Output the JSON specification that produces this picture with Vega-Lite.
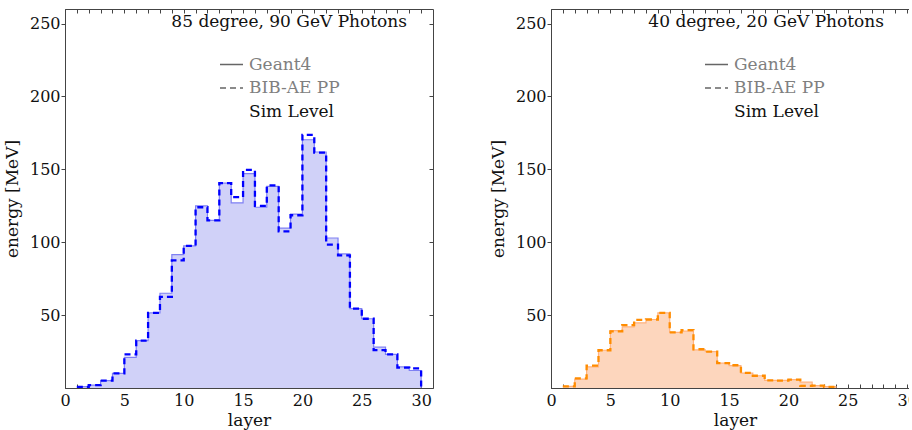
{
  "$schema": "https://vega.github.io/schema/vega-lite/v6.json",
  "background": "white",
  "padding": {"left": 2, "top": 8, "right": -11, "bottom": 2},
  "spacing": 54,
  "config": {
    "font": "DejaVu Serif",
    "view": {"stroke": "#444", "strokeWidth": 1},
    "axis": {
      "labelFont": "DejaVu Serif", "labelFontSize": 16, "labelColor": "#111",
      "titleFont": "DejaVu Serif", "titleFontSize": 17, "titleFontWeight": "normal", "titleColor": "#111",
      "domainColor": "#444", "tickColor": "#444", "grid": false
    },
    "title": {"font": "DejaVu Serif", "fontSize": 17, "fontWeight": "normal", "color": "#111"},
    "legend": {
      "labelFont": "DejaVu Serif", "labelFontSize": 17, "labelColor": "#808080",
      "symbolType": "stroke", "symbolSize": 529, "symbolStrokeWidth": 1.5, "symbolStrokeColor": "#666",
      "labelOffset": 5, "rowPadding": 2.5, "padding": 0
    }
  },
  "datasets": {
    "deg85": [
      {"layer": 1, "sim": "Geant4", "e": 1}, {"layer": 2, "sim": "Geant4", "e": 2}, {"layer": 3, "sim": "Geant4", "e": 5},
      {"layer": 4, "sim": "Geant4", "e": 10}, {"layer": 5, "sim": "Geant4", "e": 21}, {"layer": 6, "sim": "Geant4", "e": 32.5},
      {"layer": 7, "sim": "Geant4", "e": 51.5}, {"layer": 8, "sim": "Geant4", "e": 65}, {"layer": 9, "sim": "Geant4", "e": 91.5},
      {"layer": 10, "sim": "Geant4", "e": 97.5}, {"layer": 11, "sim": "Geant4", "e": 125}, {"layer": 12, "sim": "Geant4", "e": 115},
      {"layer": 13, "sim": "Geant4", "e": 140.5}, {"layer": 14, "sim": "Geant4", "e": 127}, {"layer": 15, "sim": "Geant4", "e": 147},
      {"layer": 16, "sim": "Geant4", "e": 124}, {"layer": 17, "sim": "Geant4", "e": 138.3}, {"layer": 18, "sim": "Geant4", "e": 109.7},
      {"layer": 19, "sim": "Geant4", "e": 119.3}, {"layer": 20, "sim": "Geant4", "e": 170.3}, {"layer": 21, "sim": "Geant4", "e": 161.9},
      {"layer": 22, "sim": "Geant4", "e": 102.9}, {"layer": 23, "sim": "Geant4", "e": 92}, {"layer": 24, "sim": "Geant4", "e": 54.5},
      {"layer": 25, "sim": "Geant4", "e": 47.5}, {"layer": 26, "sim": "Geant4", "e": 28}, {"layer": 27, "sim": "Geant4", "e": 23},
      {"layer": 28, "sim": "Geant4", "e": 14.5}, {"layer": 29, "sim": "Geant4", "e": 12}, {"layer": 30, "sim": "Geant4", "e": 0},
      {"layer": 1, "sim": "BIB-AE PP", "e": 0.8}, {"layer": 2, "sim": "BIB-AE PP", "e": 2}, {"layer": 3, "sim": "BIB-AE PP", "e": 5},
      {"layer": 4, "sim": "BIB-AE PP", "e": 10}, {"layer": 5, "sim": "BIB-AE PP", "e": 23}, {"layer": 6, "sim": "BIB-AE PP", "e": 32.5},
      {"layer": 7, "sim": "BIB-AE PP", "e": 51.5}, {"layer": 8, "sim": "BIB-AE PP", "e": 62.5}, {"layer": 9, "sim": "BIB-AE PP", "e": 87.5},
      {"layer": 10, "sim": "BIB-AE PP", "e": 97.5}, {"layer": 11, "sim": "BIB-AE PP", "e": 124}, {"layer": 12, "sim": "BIB-AE PP", "e": 115},
      {"layer": 13, "sim": "BIB-AE PP", "e": 140.5}, {"layer": 14, "sim": "BIB-AE PP", "e": 131}, {"layer": 15, "sim": "BIB-AE PP", "e": 149.7},
      {"layer": 16, "sim": "BIB-AE PP", "e": 125}, {"layer": 17, "sim": "BIB-AE PP", "e": 139}, {"layer": 18, "sim": "BIB-AE PP", "e": 107.4},
      {"layer": 19, "sim": "BIB-AE PP", "e": 118.5}, {"layer": 20, "sim": "BIB-AE PP", "e": 173.7}, {"layer": 21, "sim": "BIB-AE PP", "e": 161.5},
      {"layer": 22, "sim": "BIB-AE PP", "e": 98.3}, {"layer": 23, "sim": "BIB-AE PP", "e": 91}, {"layer": 24, "sim": "BIB-AE PP", "e": 54.5},
      {"layer": 25, "sim": "BIB-AE PP", "e": 47.5}, {"layer": 26, "sim": "BIB-AE PP", "e": 26}, {"layer": 27, "sim": "BIB-AE PP", "e": 23},
      {"layer": 28, "sim": "BIB-AE PP", "e": 14}, {"layer": 29, "sim": "BIB-AE PP", "e": 13.4}, {"layer": 30, "sim": "BIB-AE PP", "e": 0}
    ],
    "deg40": [
      {"layer": 1, "sim": "Geant4", "e": 1.1}, {"layer": 2, "sim": "Geant4", "e": 6.1}, {"layer": 3, "sim": "Geant4", "e": 14.5},
      {"layer": 4, "sim": "Geant4", "e": 25.9}, {"layer": 5, "sim": "Geant4", "e": 39.3}, {"layer": 6, "sim": "Geant4", "e": 42},
      {"layer": 7, "sim": "Geant4", "e": 44.7}, {"layer": 8, "sim": "Geant4", "e": 47}, {"layer": 9, "sim": "Geant4", "e": 51.6},
      {"layer": 10, "sim": "Geant4", "e": 38.2}, {"layer": 11, "sim": "Geant4", "e": 39}, {"layer": 12, "sim": "Geant4", "e": 26.1},
      {"layer": 13, "sim": "Geant4", "e": 25}, {"layer": 14, "sim": "Geant4", "e": 17}, {"layer": 15, "sim": "Geant4", "e": 15.4},
      {"layer": 16, "sim": "Geant4", "e": 10.2}, {"layer": 17, "sim": "Geant4", "e": 8.4}, {"layer": 18, "sim": "Geant4", "e": 5.2},
      {"layer": 19, "sim": "Geant4", "e": 5.2}, {"layer": 20, "sim": "Geant4", "e": 5.7}, {"layer": 21, "sim": "Geant4", "e": 4},
      {"layer": 22, "sim": "Geant4", "e": 1.6}, {"layer": 23, "sim": "Geant4", "e": 0.9}, {"layer": 24, "sim": "Geant4", "e": 0},
      {"layer": 1, "sim": "BIB-AE PP", "e": 1.1}, {"layer": 2, "sim": "BIB-AE PP", "e": 6.6}, {"layer": 3, "sim": "BIB-AE PP", "e": 15.4},
      {"layer": 4, "sim": "BIB-AE PP", "e": 25.9}, {"layer": 5, "sim": "BIB-AE PP", "e": 38.9}, {"layer": 6, "sim": "BIB-AE PP", "e": 43.2},
      {"layer": 7, "sim": "BIB-AE PP", "e": 46.8}, {"layer": 8, "sim": "BIB-AE PP", "e": 47}, {"layer": 9, "sim": "BIB-AE PP", "e": 51.6},
      {"layer": 10, "sim": "BIB-AE PP", "e": 38.2}, {"layer": 11, "sim": "BIB-AE PP", "e": 39.7}, {"layer": 12, "sim": "BIB-AE PP", "e": 26.6},
      {"layer": 13, "sim": "BIB-AE PP", "e": 25}, {"layer": 14, "sim": "BIB-AE PP", "e": 17}, {"layer": 15, "sim": "BIB-AE PP", "e": 15.6},
      {"layer": 16, "sim": "BIB-AE PP", "e": 10.4}, {"layer": 17, "sim": "BIB-AE PP", "e": 8.4}, {"layer": 18, "sim": "BIB-AE PP", "e": 5.2},
      {"layer": 19, "sim": "BIB-AE PP", "e": 5}, {"layer": 20, "sim": "BIB-AE PP", "e": 5.7}, {"layer": 21, "sim": "BIB-AE PP", "e": 1.5},
      {"layer": 22, "sim": "BIB-AE PP", "e": 1.6}, {"layer": 23, "sim": "BIB-AE PP", "e": 0.8}, {"layer": 24, "sim": "BIB-AE PP", "e": 0}
    ]
  },
  "hconcat": [
    {
      "width": 368,
      "height": 379,
      "title": {"text": "85 degree, 90 GeV Photons", "anchor": "end", "frame": "group", "offset": -30, "dx": -26, "baseline": "middle"},
      "data": {"name": "deg85"},
      "layer": [
        {
          "transform": [{"filter": "datum.sim === 'Geant4'"}],
          "mark": {"type": "area", "interpolate": "step-after", "color": "#d0d1f8"},
          "encoding": {
            "x": {"field": "layer", "type": "quantitative", "scale": {"domain": [0, 31], "nice": false, "zero": false},
              "axis": {"orient": "bottom", "title": "layer", "values": [0,1,2,3,4,5,6,7,8,9,10,11,12,13,14,15,16,17,18,19,20,21,22,23,24,25,26,27,28,29,30],
                "labelExpr": "datum.value % 5 === 0 ? datum.label : ''", "tickSize": -4, "labelPadding": 8, "titlePadding": 4, "labelFlush": false, "labelOverlap": false}},
            "y": {"field": "e", "type": "quantitative", "scale": {"domain": [0, 260], "nice": false},
              "axis": {"orient": "left", "title": "energy [MeV]", "values": [50, 100, 150, 200, 250], "tickSize": 4, "labelPadding": 1, "titlePadding": 8}}
          }
        },
        {
          "mark": {"type": "line", "interpolate": "step-after"},
          "encoding": {
            "x": {"field": "layer", "type": "quantitative",
              "axis": {"orient": "top", "labels": false, "title": null, "domain": false, "tickSize": -4,
                "values": [0,1,2,3,4,5,6,7,8,9,10,11,12,13,14,15,16,17,18,19,20,21,22,23,24,25,26,27,28,29,30]}},
            "y": {"field": "e", "type": "quantitative",
              "axis": {"orient": "right", "labels": false, "title": null, "domain": false, "tickSize": -4, "values": [50, 100, 150, 200, 250]}},
            "color": {"field": "sim", "type": "nominal", "scale": {"domain": ["Geant4", "BIB-AE PP"], "range": ["#7f80f3", "#0000ff"]}, "legend": null},
            "strokeWidth": {"field": "sim", "type": "ordinal", "scale": {"domain": ["Geant4", "BIB-AE PP"], "range": [1.2, 2.3]}, "legend": null},
            "strokeDash": {"field": "sim", "type": "nominal",
              "scale": {"domain": ["Geant4", "BIB-AE PP", "Sim Level"], "range": [[1, 0], [6, 4], [1, 0]]},
              "legend": {"orient": "none", "legendX": 154, "legendY": 43, "title": null, "labelFontSize": 17,
                "encode": {
                  "symbols": {"update": {"stroke": {"value": "#666"}, "opacity": {"signal": "datum.value === 'Sim Level' ? 0 : 1"}}},
                  "labels": {"update": {"fill": {"signal": "datum.value === 'Sim Level' ? '#111' : '#808080'"}}}
                }}}
          }
        }
      ],
      "resolve": {"axis": {"x": "independent", "y": "independent"}}
    },
    {
      "width": 368,
      "height": 379,
      "title": {"text": "40 degree, 20 GeV Photons", "anchor": "end", "frame": "group", "offset": -30, "dx": -35, "baseline": "middle"},
      "data": {"name": "deg40"},
      "layer": [
        {
          "transform": [{"filter": "datum.sim === 'Geant4'"}],
          "mark": {"type": "area", "interpolate": "step-after", "color": "#fdd6bd"},
          "encoding": {
            "x": {"field": "layer", "type": "quantitative", "scale": {"domain": [0, 31], "nice": false, "zero": false},
              "axis": {"orient": "bottom", "title": "layer", "values": [0,1,2,3,4,5,6,7,8,9,10,11,12,13,14,15,16,17,18,19,20,21,22,23,24,25,26,27,28,29,30],
                "labelExpr": "datum.value % 5 === 0 ? datum.label : ''", "tickSize": -4, "labelPadding": 8, "titlePadding": 4, "labelFlush": false, "labelOverlap": false}},
            "y": {"field": "e", "type": "quantitative", "scale": {"domain": [0, 260], "nice": false},
              "axis": {"orient": "left", "title": "energy [MeV]", "values": [50, 100, 150, 200, 250], "tickSize": 4, "labelPadding": 1, "titlePadding": 8}}
          }
        },
        {
          "mark": {"type": "line", "interpolate": "step-after"},
          "encoding": {
            "x": {"field": "layer", "type": "quantitative",
              "axis": {"orient": "top", "labels": false, "title": null, "domain": false, "tickSize": -4,
                "values": [0,1,2,3,4,5,6,7,8,9,10,11,12,13,14,15,16,17,18,19,20,21,22,23,24,25,26,27,28,29,30]}},
            "y": {"field": "e", "type": "quantitative",
              "axis": {"orient": "right", "labels": false, "title": null, "domain": false, "tickSize": -4, "values": [50, 100, 150, 200, 250]}},
            "color": {"field": "sim", "type": "nominal", "scale": {"domain": ["Geant4", "BIB-AE PP"], "range": ["#ffb27f", "#ff8c00"]}, "legend": null},
            "strokeWidth": {"field": "sim", "type": "ordinal", "scale": {"domain": ["Geant4", "BIB-AE PP"], "range": [1.2, 2.3]}, "legend": null},
            "strokeDash": {"field": "sim", "type": "nominal",
              "scale": {"domain": ["Geant4", "BIB-AE PP", "Sim Level"], "range": [[1, 0], [6, 4], [1, 0]]},
              "legend": {"orient": "none", "legendX": 153, "legendY": 43, "title": null, "labelFontSize": 17,
                "encode": {
                  "symbols": {"update": {"stroke": {"value": "#666"}, "opacity": {"signal": "datum.value === 'Sim Level' ? 0 : 1"}}},
                  "labels": {"update": {"fill": {"signal": "datum.value === 'Sim Level' ? '#111' : '#808080'"}}}
                }}}
          }
        }
      ],
      "resolve": {"axis": {"x": "independent", "y": "independent"}}
    }
  ],
  "resolve": {"scale": {"x": "independent", "y": "independent", "color": "independent", "strokeDash": "independent", "strokeWidth": "independent"}}
}
